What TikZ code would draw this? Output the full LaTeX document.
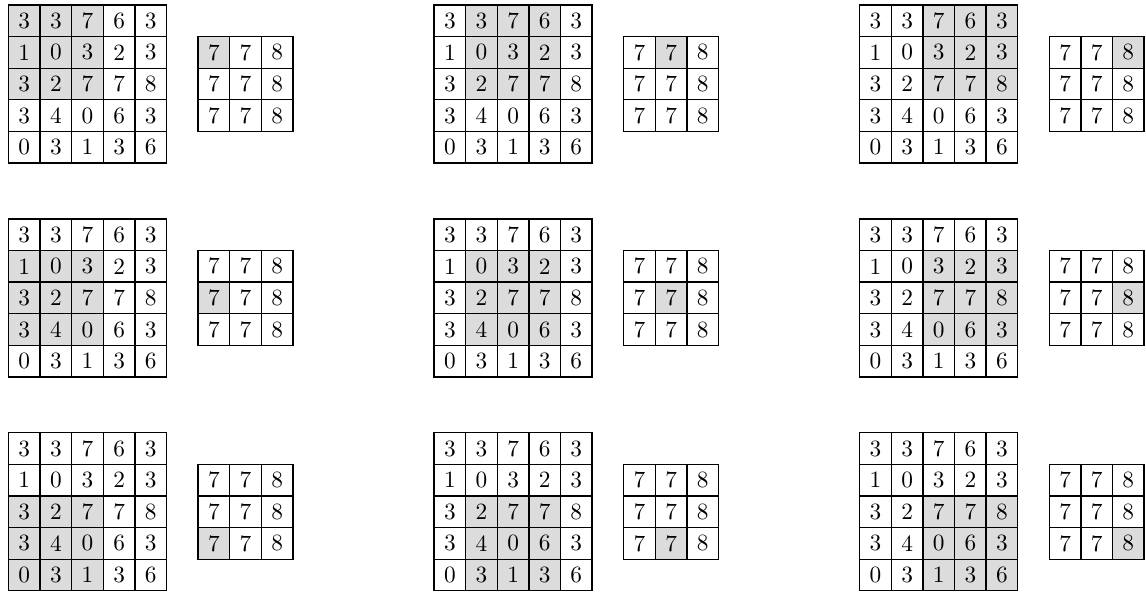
\documentclass[tikz,border=0pt]{standalone}
\definecolor{shade}{HTML}{DCDCDC}
\tikzset{
  cellbox/.style={draw, line width=0.6pt, minimum size=0.5cm, inner sep=0pt,
    font=\fontsize{10.5}{12}\selectfont},
}
\begin{document}
\begin{tikzpicture}[x=0.5cm,y=-0.5cm]
\useasboundingbox (0,0) rectangle (36.27,18.77);
\foreach \r in {0,1,2}{
  \foreach \c in {0,1,2}{
    \pgfmathsetmacro\xo{0.27+13.47*\c}
    \pgfmathsetmacro\yo{0.158+6.77*\r}
    % big 5x5 grid
    \foreach \rowvals [count=\i from 0] in {{3,3,7,6,3},{1,0,3,2,3},{3,2,7,7,8},{3,4,0,6,3},{0,3,1,3,6}}{
      \foreach \v [count=\j from 0] in \rowvals {
        \pgfmathtruncatemacro\sh{and(and(\i>=\r,\i<=\r+2),and(\j>=\c,\j<=\c+2))}
        \ifnum\sh=1 \def\fc{shade}\else\def\fc{white}\fi
        \node[cellbox, fill=\fc] (p\r\c-b\i\j) at (\xo+\j+0.5,\yo+\i+0.5) {\v};
      }
    }
    % small 3x3 grid
    \foreach \rowvals [count=\i from 0] in {{7,7,8},{7,7,8},{7,7,8}}{
      \foreach \v [count=\j from 0] in \rowvals {
        \pgfmathtruncatemacro\sh{and(\i==\r,\j==\c)}
        \ifnum\sh=1 \def\fc{shade}\else\def\fc{white}\fi
        \node[cellbox, fill=\fc] (p\r\c-s\i\j) at (\xo+6+\j+0.5,\yo+1+\i+0.5) {\v};
      }
    }
  }
}
\end{tikzpicture}
\end{document}
